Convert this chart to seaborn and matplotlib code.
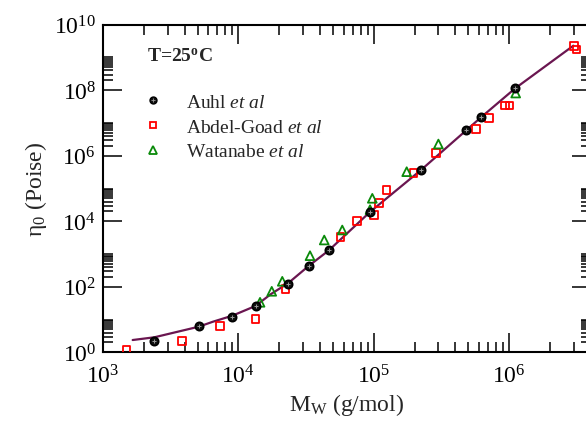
import matplotlib
matplotlib.use("Agg")
import matplotlib.pyplot as plt
import seaborn as sns
import pandas as pd
import numpy as np
from matplotlib.lines import Line2D
from matplotlib.ticker import FixedLocator, LogFormatterMathtext, NullFormatter
from matplotlib.legend_handler import HandlerTuple

# ---- data ----
auhl_M = [2395, 5090, 9020, 13430, 23380, 33200, 46460, 93800, 223300, 477000, 619800, 1104000]
auhl_eta = [2.2, 6.2, 12.2, 26.5, 121.6, 440, 1300, 19600, 375000, 6.1e6, 1.49e7, 1.15e8]

abdel_M = [1496, 3830, 7310, 13340, 22340, 56630, 74790, 100300, 109000, 124400,
           196000, 286600, 566000, 713000, 931000, 1003000, 3010000, 3150000]
abdel_eta = [1.2, 2.2, 6.4, 10.2, 83.8, 3240, 10400, 15850, 36100, 91900,
             297000, 1.19e6, 6.55e6, 1.42e7, 3.37e7, 3.37e7, 2.28e9, 1.73e9]

wat_M = [14450, 17630, 21090, 33800, 43060, 58500, 93800, 97500, 175000, 300000, 1117000]
wat_eta = [33.6, 72.8, 147, 889, 2680, 5410, 22540, 50200, 326000, 2.28e6, 8.2e7]

fit_M = [1656, 2395, 5090, 6490, 9020, 13360, 17420, 23380, 33200, 46430,
         93760, 223300, 619800, 1104000, 2980000]
fit_eta = [2.37, 2.87, 6.04, 8.59, 13.1, 25.9, 60.2, 130, 440, 1280,
           19200, 367000, 1.49e7, 1.13e8, 2.29e9]

series_labels = [r"Auhl $\mathit{et\ al}$", r"Abdel-Goad $\mathit{et\ al}$", r"Watanabe $\mathit{et\ al}$"]
x_label = r"M$_\mathrm{W}$ (g/mol)"
y_label = "\u03b7$_0$ (Poise)"
annot = r"T=25$^{\mathbf{o}}$C"

# ---- style ----
sns.set_style("white")
plt.rcParams["font.family"] = ["Liberation Serif", "DejaVu Serif"]
plt.rcParams["mathtext.fontset"] = "custom"
plt.rcParams["mathtext.rm"] = "Liberation Serif"
plt.rcParams["mathtext.it"] = "Liberation Serif:italic"
plt.rcParams["mathtext.bf"] = "Liberation Serif:bold"

W, H = 586, 427
fig = plt.figure(figsize=(W / 100, H / 100), dpi=100)
left, right, bottom, top = 103, 590.7, 353.3, 25.7
ax = fig.add_axes([left / W, 1 - bottom / H, (right - left) / W, (bottom - top) / H])

line_color = "#6a1650"

df_fit = pd.DataFrame({"M": fit_M, "eta": fit_eta})
sns.lineplot(data=df_fit, x="M", y="eta", ax=ax, color=line_color, lw=1.6,
             sort=False, estimator=None, zorder=2)

df_a = pd.DataFrame({"M": auhl_M, "eta": auhl_eta})
df_b = pd.DataFrame({"M": abdel_M, "eta": abdel_eta})
df_w = pd.DataFrame({"M": wat_M, "eta": wat_eta})

sns.scatterplot(data=df_b, x="M", y="eta", ax=ax, marker="s", s=30,
                facecolor="none", edgecolor="#ff0000", linewidth=1.3, zorder=3)
sns.scatterplot(data=df_w, x="M", y="eta", ax=ax, marker="^", s=40,
                facecolor="none", edgecolor="#0a8a0a", linewidth=1.3, zorder=3)
sns.scatterplot(data=df_a, x="M", y="eta", ax=ax, marker="o", s=36,
                facecolor="#111111", edgecolor="black", linewidth=1.2, zorder=4)
sns.scatterplot(data=df_a, x="M", y="eta", ax=ax, marker="+", s=7,
                color="#9a9a9a", linewidth=0.7, zorder=5)

ax.set_xscale("log")
ax.set_yscale("log")
ax.set_xlim(1e3, 4e6)
ax.set_ylim(1e0, 1e10)

# ticks
ax.xaxis.set_major_locator(FixedLocator([1e3, 1e4, 1e5, 1e6, 1e7]))
ax.xaxis.set_minor_locator(FixedLocator([k * 10.0 ** n for n in range(3, 7) for k in range(2, 10)]))
ax.yaxis.set_major_locator(FixedLocator([10.0 ** n for n in range(0, 11, 2)]))
ax.yaxis.set_minor_locator(FixedLocator([k * 10.0 ** n for n in range(0, 10, 2) for k in range(2, 11)]))
ax.xaxis.set_major_formatter(LogFormatterMathtext())
ax.yaxis.set_major_formatter(LogFormatterMathtext())
ax.xaxis.set_minor_formatter(NullFormatter())
ax.yaxis.set_minor_formatter(NullFormatter())

ax.tick_params(which="both", direction="in", top=True, right=True, bottom=True, left=True,
               width=1.1, colors="black")
ax.tick_params(which="major", length=13.5)
ax.tick_params(which="minor", length=7.3)
ax.tick_params(axis="x", which="major", labelsize=17, pad=9)
ax.tick_params(axis="y", which="major", labelsize=17, pad=5)

for sp in ax.spines.values():
    sp.set_linewidth(1.5)
    sp.set_color("black")

ax.set_xlabel(x_label, fontsize=17, labelpad=2)
ax.set_ylabel(y_label, fontsize=17, labelpad=4)

# annotation
fig.text(146.7 / W, 1 - 61.7 / H, annot, fontsize=14, fontweight="bold", va="baseline", ha="left")

# legend
h_a = (Line2D([], [], ls="none", marker="o", ms=5, mfc="#111111", mec="black", mew=1.0),
       Line2D([], [], ls="none", marker="+", ms=2.2, color="#9a9a9a", mew=0.6))
h_b = Line2D([], [], ls="none", marker="s", ms=5, mfc="none", mec="#ff0000", mew=1.3)
h_w = Line2D([], [], ls="none", marker="^", ms=5.5, mfc="none", mec="#0a8a0a", mew=1.3)
ax.legend([h_a, h_b, h_w], series_labels, handler_map={tuple: HandlerTuple(ndivide=1, pad=0)},
          loc="upper left", bbox_to_anchor=(143.6 / W, 1 - 94.5 / H), bbox_transform=fig.transFigure,
          frameon=False, fontsize=14, borderpad=0, borderaxespad=0, handlelength=1.0,
          handletextpad=1.18, labelspacing=0.36, numpoints=1)

fig.savefig("out.png", dpi=100)
